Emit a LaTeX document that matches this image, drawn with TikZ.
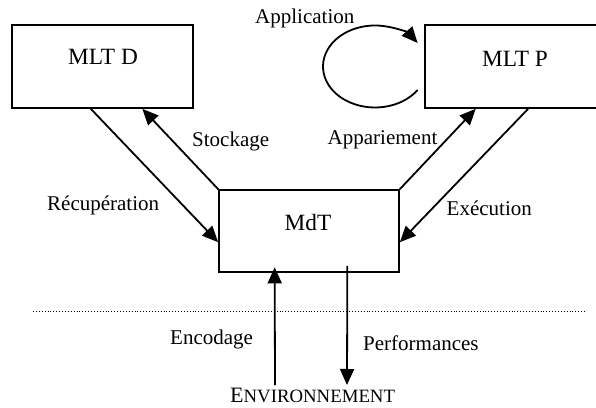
\documentclass[tikz,border=0pt]{standalone}
\usepackage{fontspec}
\setmainfont{Liberation Serif}
\usetikzlibrary{arrows.meta,calc}
\begin{document}
\begin{tikzpicture}[x=1pt,y=1pt,
  box/.style={draw,line width=1.7pt,inner sep=0pt,minimum width=#1,minimum height=83pt},
  boxtext/.style={font=\fontsize{23.3}{27}\selectfont,inner sep=0pt,anchor=base},
  lbl/.style={font=\fontsize{21}{25}\selectfont,inner sep=0pt,anchor=base west},
  arr/.style={line width=1.8pt,-{Triangle[length=16pt,width=14pt]}}]
\useasboundingbox (0,0) rectangle (596,407);
% boxes
\node[box=181pt] (mltd) at (102.5,340.5) {};
\node[box=181pt] (mltp) at (515.5,340.5) {};
\node[box=180pt,minimum height=82pt] (mdt) at (309,176) {};
\node[boxtext] (tmltd) at (103,342) {MLT D};
\node[boxtext] (tmltp) at (515,340) {MLT P};
\node[boxtext] (tmdt) at (308,176) {MdT};
% labels
\node[lbl] (lapp) at (255,383.5) {Application};
\node[lbl] (lsto) at (192,260.5) {Stockage};
\node[lbl] (lappa) at (327.5,262) {Appariement};
\node[lbl] (lrec) at (47,196) {Récupération};
\node[lbl] (lexe) at (446.5,191) {Exécution};
\node[lbl] (lenc) at (170,62.7) {Encodage};
\node[lbl] (lperf) at (363,57) {Performances};
\node[inner sep=0pt,anchor=base west] (env) at (230,5)
  {\fontsize{22}{26}\selectfont E\fontsize{18.8}{22}\selectfont NVIRONNEMENT};
% free ends
\coordinate (encstart) at (275,22);
\coordinate (perfend) at (347,22);
\coordinate (loopc) at (375,340.5);
\coordinate (dotl) at (33,96);
\coordinate (dotr) at (585,96);
% connectors
\draw[arr] ($(mltd.south west)!0.436!(mltd.south east)$) -- ($(mdt.north west)!0.634!(mdt.south west)$);
\draw[arr] (mdt.north west) -- ($(mltd.south west)!0.718!(mltd.south east)$);
\draw[arr] (mdt.north east) -- ($(mltp.south west)!0.282!(mltp.south east)$);
\draw[arr] ($(mltp.south west)!0.569!(mltp.south east)$) -- ($(mdt.north east)!0.634!(mdt.south east)$);
\draw[arr] (encstart) -- ($(mdt.south west)!0.311!(mdt.south east)+(0,5.5)$);
\draw[arr] ($(mdt.south west)!0.711!(mdt.south east)+(0,7)$) -- (perfend);
\draw[arr] ($(loopc)+(-35:52 and 41)$) arc[start angle=-35,end angle=-325,x radius=52,y radius=41];
\draw[dotted,line width=0.9pt] (dotl) -- (dotr);
\end{tikzpicture}
\end{document}
